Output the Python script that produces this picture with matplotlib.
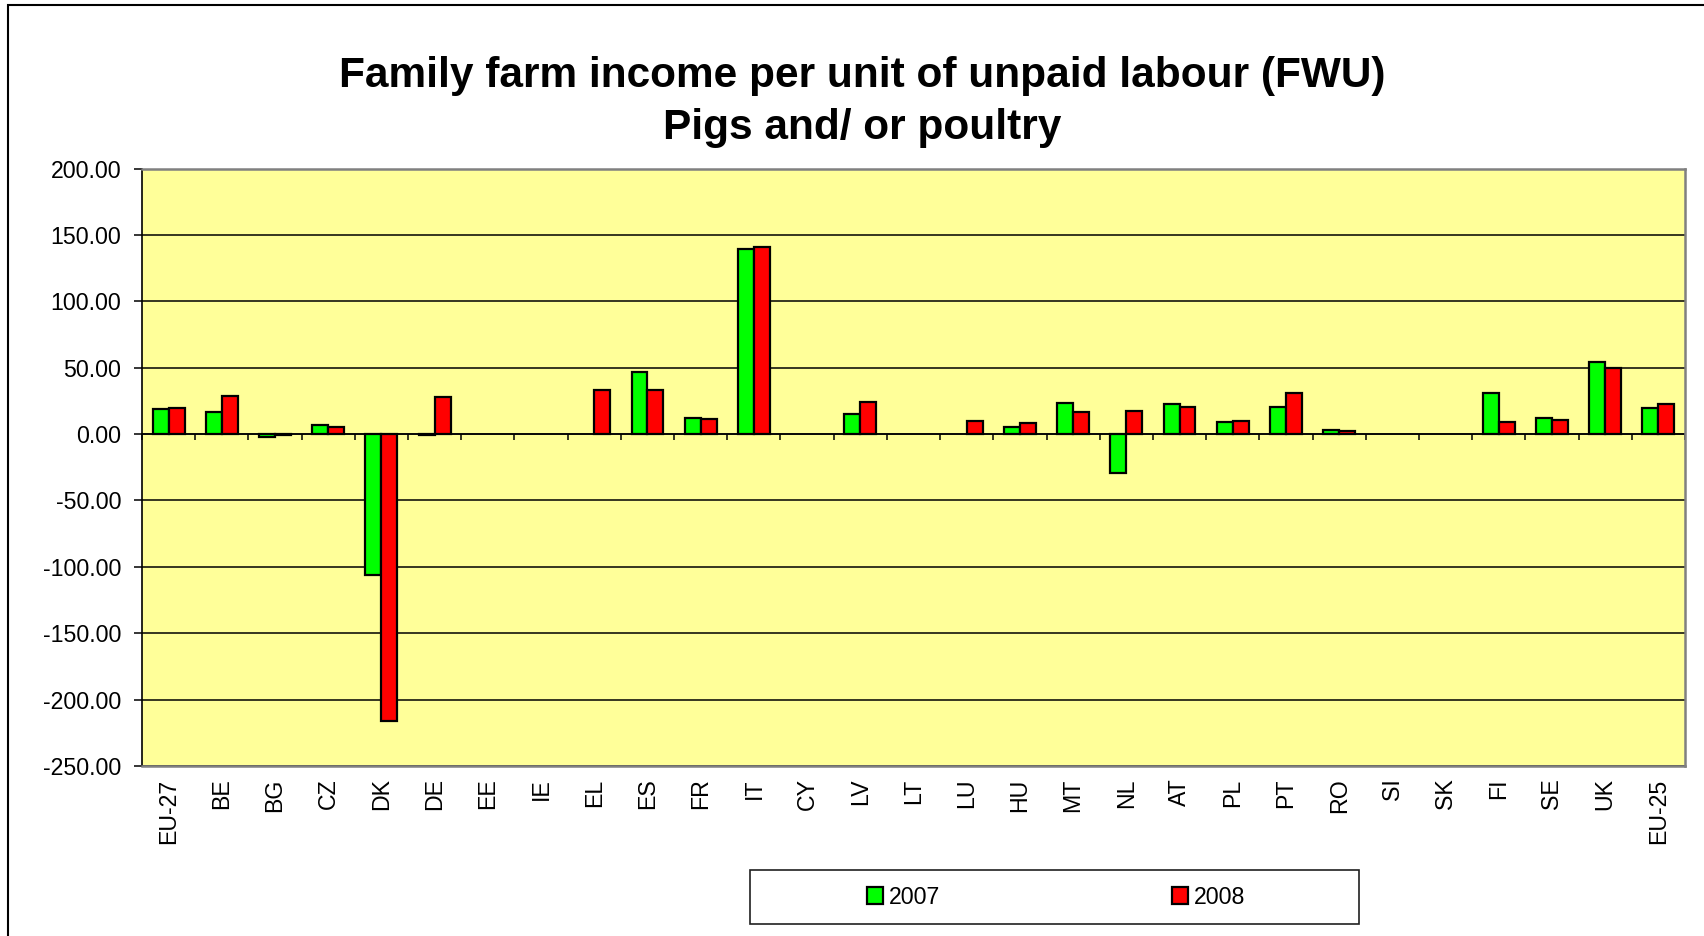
import numpy as np
import matplotlib
matplotlib.use("Agg")
import matplotlib.pyplot as plt
from matplotlib.patches import Rectangle

plt.rcParams["font.family"] = ["Liberation Sans", "DejaVu Sans"]

# ── Data ────────────────────────────────────────────────────
countries = ["EU-27", "BE", "BG", "CZ", "DK", "DE", "EE", "IE", "EL", "ES",
             "FR", "IT", "CY", "LV", "LT", "LU", "HU", "MT", "NL", "AT",
             "PL", "PT", "RO", "SI", "SK", "FI", "SE", "UK", "EU-25"]
nan = np.nan
fwu_2007 = [18.9, 16.7, -2.0, 6.5, -106.0, -1.0, nan, nan, nan, 46.5,
            11.9, 139.0, nan, 14.9, nan, nan, 5.2, 23.6, -29.3, 22.4,
            9.2, 20.4, 3.4, nan, nan, 31.0, 12.4, 53.9, 19.4]
fwu_2008 = [19.4, 29.0, -1.0, 5.2, -216.0, 27.9, nan, nan, 33.3, 33.3,
            11.4, 141.0, nan, 24.1, nan, 9.7, 8.7, 16.4, 17.4, 20.4,
            9.7, 31.1, 2.4, nan, nan, 9.2, 10.4, 50.0, 22.6]
years = ["2007", "2008"]
y_ticks = [-250, -200, -150, -100, -50, 0, 50, 100, 150, 200]
y_labels = [f"{v:.2f}" for v in y_ticks]

# ── Figure ──────────────────────────────────────────────────
fig = plt.figure(figsize=(17.04, 9.36), dpi=100)
ax = fig.add_axes([142 / 1704, 1 - 766 / 936, 1543 / 1704, 597.5 / 936])
ax.set_facecolor("#FFFF99")

x = np.arange(len(countries))
w = 0.3
ax.bar(x - w / 2, fwu_2007, w, color="#00FF00", edgecolor="black", lw=1.6, zorder=3, label=years[0])
ax.bar(x + w / 2, fwu_2008, w, color="#FF0000", edgecolor="black", lw=1.6, zorder=3, label=years[1])

ax.set_ylim(-250, 200)
ax.set_xlim(-0.5, len(countries) - 0.5)
ax.set_yticks(y_ticks)
ax.set_yticklabels(y_labels, fontsize=16.7)
ax.yaxis.grid(True, color="black", lw=1.1, zorder=1)
ax.tick_params(axis="y", direction="out", length=6, width=1.1, pad=9)

ax.set_xticks(x)
ax.set_xticklabels(countries, rotation=90, fontsize=16.7)
ax.tick_params(axis="x", length=0, pad=9)

for s in ["top", "right", "bottom"]:
    ax.spines[s].set_color("#808080")
    ax.spines[s].set_linewidth(1.8)
ax.spines["left"].set_color("black")
ax.spines["left"].set_linewidth(1.2)

# category axis crossing at zero, with ticks between categories
secax = ax.secondary_xaxis(250 / 450)
secax.set_alignment("bottom")
secax.set_xticks(np.arange(len(countries) + 1) - 0.5)
secax.set_xticklabels([])
secax.tick_params(direction="out", length=4, width=1.1)
secax.spines["bottom"].set_linewidth(1.1)

# ── Title ───────────────────────────────────────────────────
fig.text(862 / 1704, 1 - 87 / 936, "Family farm income per unit of unpaid labour (FWU)",
         ha="center", va="baseline", fontsize=30.5, fontweight="bold")
fig.text(862 / 1704, 1 - 139 / 936, "Pigs and/ or poultry",
         ha="center", va="baseline", fontsize=30.5, fontweight="bold")

# ── Legend ──────────────────────────────────────────────────
fig.patches.append(Rectangle((750 / 1704, 12 / 936), 609 / 1704, 54 / 936,
                             transform=fig.transFigure, fill=False,
                             edgecolor="#202020", lw=1.2))
handles, labels = ax.get_legend_handles_labels()
fig.legend(handles, labels, loc="center", bbox_to_anchor=(1056 / 1704, 1 - 897 / 936),
           ncol=2, frameon=False, fontsize=16.7, handlelength=0.7, handleheight=0.7,
           handletextpad=0.25, columnspacing=10.0)

# outer chart border
fig.patches.append(Rectangle((8 / 1704, -0.1), 1.2, 1.1 - 5 / 936,
                             transform=fig.transFigure, fill=False,
                             edgecolor="black", lw=1.5))

plt.savefig("out.png", dpi=100)
